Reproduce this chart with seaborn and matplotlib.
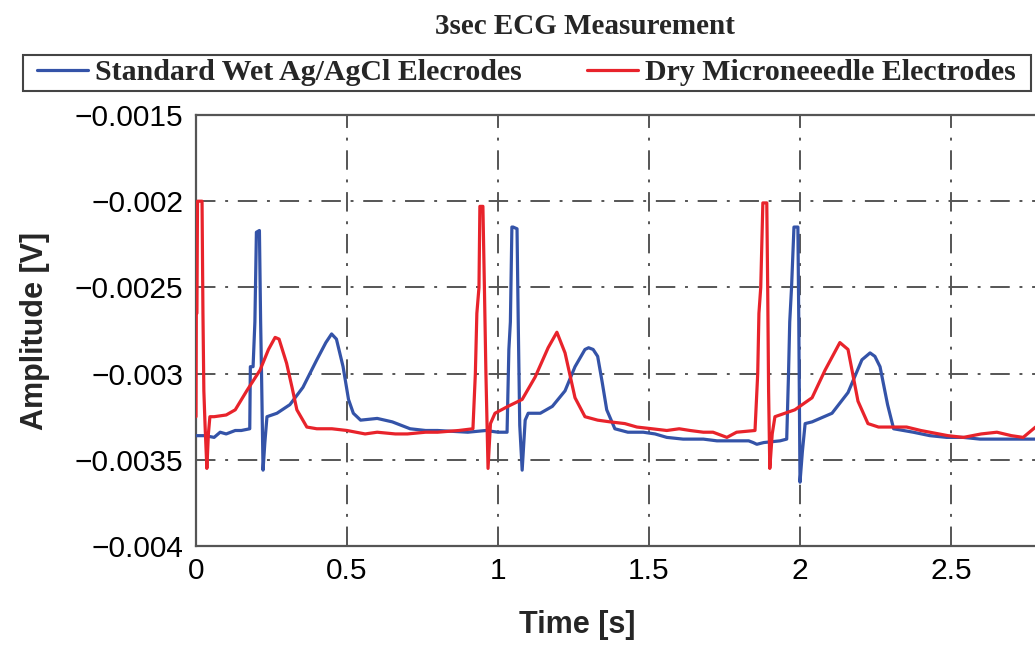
import numpy as np
import pandas as pd
import matplotlib
matplotlib.use("Agg")
import matplotlib.pyplot as plt
from matplotlib.patches import Rectangle
import seaborn as sns

# ---------------- data ----------------
time_wet = [0.000, 0.030, 0.060, 0.080, 0.100, 0.130, 0.150, 0.178, 0.180, 0.189, 0.195, 0.200,
            0.210, 0.214, 0.217, 0.222, 0.228, 0.235, 0.268, 0.311, 0.354, 0.400, 0.430, 0.449,
            0.465, 0.487, 0.505, 0.521, 0.545, 0.600, 0.650, 0.709, 0.760, 0.800, 0.900, 0.960,
            1.000, 1.030, 1.036, 1.041, 1.046, 1.050, 1.063, 1.067, 1.072, 1.080, 1.090, 1.100,
            1.140, 1.180, 1.222, 1.255, 1.288, 1.300, 1.315, 1.330, 1.345, 1.360, 1.387, 1.430,
            1.481, 1.520, 1.559, 1.613, 1.680, 1.725, 1.780, 1.830, 1.845, 1.857, 1.880, 1.934,
            1.956, 1.962, 1.966, 1.972, 1.980, 1.993, 1.996, 2.000, 2.008, 2.017, 2.040, 2.106,
            2.159, 2.205, 2.232, 2.248, 2.265, 2.290, 2.310, 2.375, 2.430, 2.486, 2.540, 2.596,
            2.680, 2.780]
amp_wet = [-0.00336, -0.00336, -0.00337, -0.00334, -0.00335, -0.00333, -0.00333, -0.00332, -0.00296,
           -0.00296, -0.00270, -0.00218, -0.00217, -0.00270, -0.00300, -0.00356, -0.00340, -0.00325,
           -0.00323, -0.00318, -0.00308, -0.00292, -0.00282, -0.00277, -0.00280, -0.00296, -0.00315,
           -0.00323, -0.00327, -0.00326, -0.00328, -0.00332, -0.00333, -0.00333, -0.00334, -0.00333,
           -0.00334, -0.00334, -0.00286, -0.00270, -0.00215, -0.00215, -0.00216, -0.00270, -0.00330,
           -0.00356, -0.00327, -0.00323, -0.00323, -0.00319, -0.00310, -0.00296, -0.00286, -0.00285,
           -0.00286, -0.00290, -0.00305, -0.00321, -0.00332, -0.00334, -0.00334, -0.00335, -0.00337,
           -0.00338, -0.00338, -0.00339, -0.00339, -0.00339, -0.00340, -0.00341, -0.00340, -0.00339,
           -0.00338, -0.00300, -0.00270, -0.00250, -0.00215, -0.00215, -0.00270, -0.00363, -0.00345,
           -0.00329, -0.00328, -0.00323, -0.00311, -0.00292, -0.00288, -0.00290, -0.00296, -0.00318,
           -0.00332, -0.00334, -0.00336, -0.00337, -0.00337, -0.00338, -0.00338, -0.00338]

time_dry = [0.000, 0.001, 0.003, 0.005, 0.020, 0.023, 0.026, 0.030, 0.036, 0.041, 0.046, 0.060,
            0.100, 0.130, 0.168, 0.212, 0.240, 0.262, 0.275, 0.300, 0.318, 0.334, 0.367, 0.400,
            0.450, 0.500, 0.560, 0.600, 0.660, 0.700, 0.760, 0.800, 0.870, 0.917, 0.925, 0.930,
            0.937, 0.940, 0.950, 0.955, 0.960, 0.967, 0.975, 0.990, 1.033, 1.080, 1.123, 1.166,
            1.195, 1.222, 1.255, 1.288, 1.330, 1.371, 1.420, 1.460, 1.510, 1.559, 1.600, 1.636,
            1.680, 1.712, 1.758, 1.790, 1.851, 1.860, 1.864, 1.870, 1.877, 1.890, 1.893, 1.896,
            1.900, 1.908, 1.917, 1.983, 2.040, 2.083, 2.132, 2.159, 2.192, 2.225, 2.260, 2.353,
            2.400, 2.430, 2.490, 2.541, 2.600, 2.652, 2.700, 2.739, 2.780]
amp_dry = [-0.00325, -0.00265, -0.00265, -0.00200, -0.00200, -0.00265, -0.00310, -0.00330, -0.00355,
           -0.00335, -0.00325, -0.00325, -0.00324, -0.00321, -0.00310, -0.00298, -0.00286, -0.00279,
           -0.00280, -0.00294, -0.00308, -0.00321, -0.00331, -0.00332, -0.00332, -0.00333, -0.00335,
           -0.00334, -0.00335, -0.00335, -0.00334, -0.00334, -0.00333, -0.00332, -0.00300, -0.00265,
           -0.00250, -0.00203, -0.00203, -0.00250, -0.00300, -0.00355, -0.00329, -0.00323, -0.00319,
           -0.00315, -0.00302, -0.00285, -0.00276, -0.00288, -0.00314, -0.00325, -0.00327, -0.00328,
           -0.00329, -0.00331, -0.00332, -0.00333, -0.00332, -0.00333, -0.00334, -0.00334, -0.00337,
           -0.00334, -0.00333, -0.00300, -0.00265, -0.00250, -0.00201, -0.00201, -0.00250, -0.00310,
           -0.00355, -0.00335, -0.00325, -0.00321, -0.00314, -0.00298, -0.00282, -0.00286, -0.00316,
           -0.00329, -0.00331, -0.00331, -0.00333, -0.00334, -0.00336, -0.00337, -0.00335, -0.00334,
           -0.00336, -0.00337, -0.00331]

series_names = ["Standard Wet Ag/AgCl Elecrodes", "Dry Microneeedle Electrodes"]
series_colors = ["#3453a8", "#e8232b"]

x_ticks = [0, 0.5, 1, 1.5, 2, 2.5]
x_tick_labels = ["0", "0.5", "1", "1.5", "2", "2.5"]
y_ticks = [-0.004, -0.0035, -0.003, -0.0025, -0.002, -0.0015]
y_tick_labels = ["\u22120.004", "\u22120.0035", "\u22120.003", "\u22120.0025", "\u22120.002", "\u22120.0015"]

title_text = "3sec ECG Measurement"
x_label = "Time [s]"
y_label = "Amplitude [V]"

# ---------------- plot ----------------
sns.set_theme(style="white")
plt.rcParams["font.family"] = ["Liberation Sans", "DejaVu Sans"]

fig = plt.figure(figsize=(10.35, 6.46), dpi=100)
W, H = 1035, 646
ax = fig.add_axes([196 / W, (H - 546) / H, (W - 196) / W, 431 / H])

df_wet = pd.DataFrame({"t": time_wet, "v": amp_wet})
df_dry = pd.DataFrame({"t": time_dry, "v": amp_dry})
sns.lineplot(data=df_wet, x="t", y="v", ax=ax, color=series_colors[0], lw=2.3,
             sort=False, estimator=None, label=series_names[0], zorder=3)
sns.lineplot(data=df_dry, x="t", y="v", ax=ax, color=series_colors[1], lw=2.3,
             sort=False, estimator=None, label=series_names[1], zorder=4)

ax.set_xlim(0, (W - 196) / 302)
ax.set_ylim(-0.004, -0.0015)
ax.set_xticks(x_ticks)
ax.set_xticklabels(x_tick_labels)
ax.set_yticks(y_ticks)
ax.set_yticklabels(y_tick_labels)
ax.tick_params(axis="both", length=0, labelsize=21.5, colors="black")
ax.tick_params(axis="y", pad=9)
ax.tick_params(axis="x", pad=8)

grid_style = dict(color="#555555", lw=1.4, linestyle=(0, (10, 5, 1.5, 5)))
ax.grid(True, **grid_style)
ax.set_axisbelow(True)

for side in ["left", "bottom", "top"]:
    ax.spines[side].set_color("#555555")
    ax.spines[side].set_linewidth(1.6)
ax.spines["right"].set_visible(False)

ax.set_xlabel(x_label, fontsize=22, fontweight="bold")
ax.set_ylabel(y_label, fontsize=22, fontweight="bold")
ax.xaxis.set_label_coords((577 - 196) / (W - 196), -0.148)
ax.yaxis.set_label_coords((50 - 196) / (W - 196), 0.5)

fig.text(584.5 / W, 1 - 26 / H, title_text, ha="center", va="center",
         fontsize=21, fontweight="bold", family=["Liberation Serif", "DejaVu Serif"])

# legend box frame
fig.patches.append(Rectangle((23 / W, 1 - 91 / H), (1031 - 23) / W, 36 / H,
                             transform=fig.transFigure, fill=False,
                             edgecolor="#444444", linewidth=1.5, zorder=1))

handles, labels = ax.get_legend_handles_labels()
ax.get_legend().remove()
leg = fig.legend(handles, labels, ncol=2, mode="expand",
                 bbox_to_anchor=(37 / W, 1 - 91 / H, (1016 - 37) / W, 36 / H),
                 loc="center", frameon=False, borderpad=0.0,
                 handlelength=1.7, handletextpad=0.25, columnspacing=1.0, borderaxespad=0,
                 prop={"family": ["Liberation Serif", "DejaVu Serif"], "weight": "bold", "size": 21.5})

fig.savefig("out.png", dpi=100, facecolor="white")
